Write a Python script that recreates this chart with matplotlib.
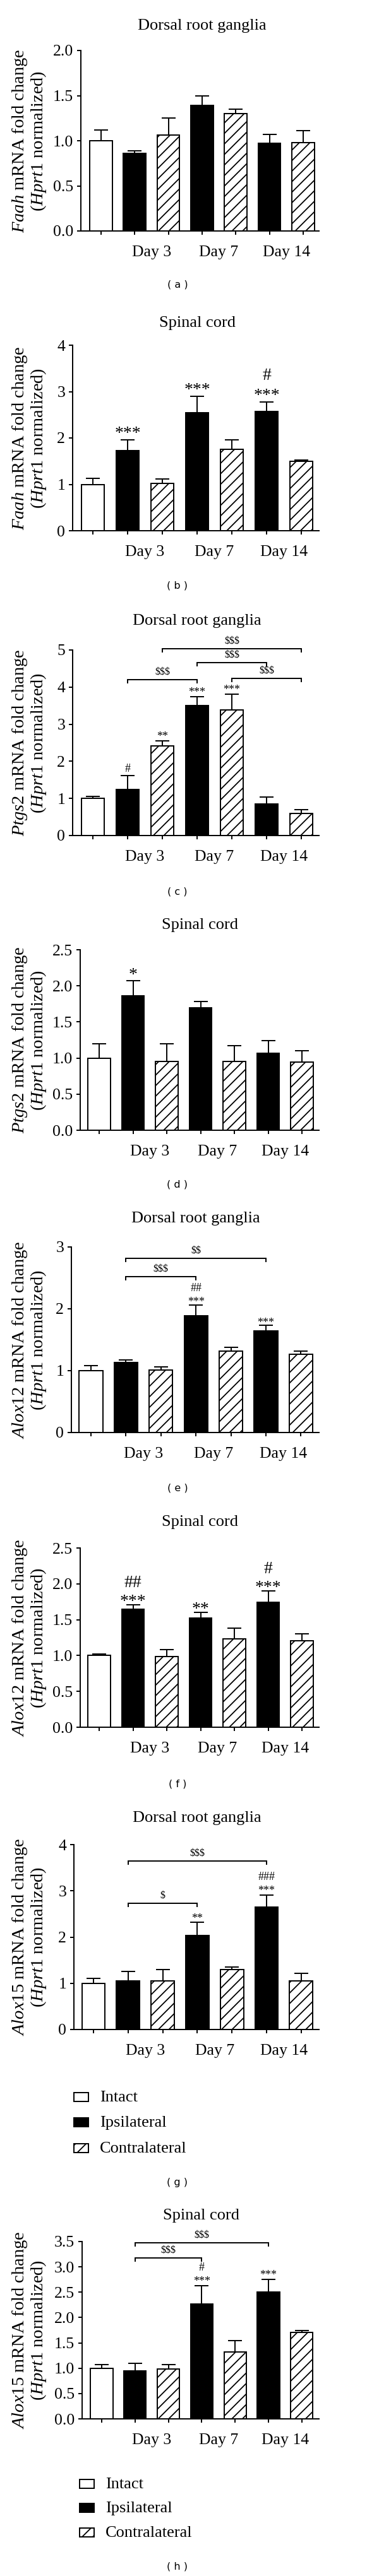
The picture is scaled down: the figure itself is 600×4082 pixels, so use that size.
import matplotlib
matplotlib.use('Agg')
import matplotlib.pyplot as plt
from matplotlib.patches import Rectangle
import numpy as np

plt.rcParams['font.family'] = ['Liberation Serif', 'DejaVu Serif']
plt.rcParams['mathtext.fontset'] = 'custom'
plt.rcParams['mathtext.rm'] = 'Liberation Serif'
plt.rcParams['mathtext.it'] = 'Liberation Serif:italic'
plt.rcParams['hatch.linewidth'] = 1.3

# ---------------- data ----------------
groups = ['Intact', 'Ipsilateral', 'Contralateral']
bar_groups = [0, 1, 2, 1, 2, 1, 2]
day_labels = ['Day 3', 'Day 7', 'Day 14']
genes = ['Faah', 'Faah', 'Ptgs2', 'Ptgs2', 'Alox12', 'Alox12', 'Alox15', 'Alox15']
tissues = ['Dorsal root ganglia', 'Spinal cord'] * 4
letters = ['a', 'b', 'c', 'd', 'e', 'f', 'g', 'h']

a_vals = [1.00, 0.86, 1.06, 1.39, 1.30, 0.97, 0.98]
a_err = [0.12, 0.03, 0.19, 0.11, 0.05, 0.10, 0.13]
b_vals = [1.00, 1.73, 1.02, 2.54, 1.76, 2.57, 1.49]
b_err = [0.13, 0.23, 0.09, 0.36, 0.20, 0.20, 0.04]
c_vals = [1.00, 1.24, 2.42, 3.50, 3.39, 0.85, 0.59]
c_err = [0.05, 0.38, 0.13, 0.25, 0.42, 0.18, 0.11]
d_vals = [1.00, 1.86, 0.95, 1.70, 0.95, 1.07, 0.94]
d_err = [0.20, 0.21, 0.25, 0.08, 0.22, 0.17, 0.16]
e_vals = [1.00, 1.13, 1.01, 1.89, 1.32, 1.64, 1.27]
e_err = [0.085, 0.04, 0.05, 0.17, 0.055, 0.09, 0.045]
f_vals = [1.00, 1.65, 0.99, 1.525, 1.235, 1.74, 1.21]
f_err = [0.02, 0.06, 0.095, 0.08, 0.145, 0.165, 0.09]
g_vals = [1.00, 1.05, 1.05, 2.04, 1.30, 2.65, 1.05]
g_err = [0.11, 0.20, 0.25, 0.28, 0.05, 0.26, 0.16]
h_vals = [1.00, 0.95, 0.98, 2.27, 1.325, 2.50, 1.71]
h_err = [0.07, 0.15, 0.09, 0.36, 0.225, 0.25, 0.03]

# significance labels per bar (lines bottom-to-top separated by '|')
a_sig = ['', '', '', '', '', '', '']
b_sig = ['', '***', '', '***', '', '***|#', '']
c_sig = ['', '#', '**', '***', '***', '', '']
d_sig = ['', '*', '', '', '', '', '']
e_sig = ['', '', '', '***|##', '', '***', '']
f_sig = ['', '***|##', '', '**', '', '***|#', '']
g_sig = ['', '', '', '**', '', '***|###', '']
h_sig = ['', '', '', '***|#', '', '***', '']

# comparison brackets: (bar from, bar to, height, label)
a_br = []
b_br = []
c_br = [(2, 6, 5.04, '$$$'), (3, 5, 4.66, '$$$'), (1, 3, 4.20, '$$$'), (4, 6, 4.24, '$$$')]
d_br = []
e_br = [(1, 5, 2.82, '$$'), (1, 3, 2.52, '$$$')]
f_br = []
g_br = [(1, 5, 3.64, '$$$'), (1, 3, 2.73, '$')]
h_br = [(1, 5, 3.48, '$$$'), (1, 3, 3.18, '$$$')]

ymaxes = [2.0, 4, 5, 2.5, 3, 2.5, 4, 3.5]
ysteps = [0.5, 1, 1, 0.5, 1, 0.5, 1, 0.5]

vals_all = [a_vals, b_vals, c_vals, d_vals, e_vals, f_vals, g_vals, h_vals]
errs_all = [a_err, b_err, c_err, d_err, e_err, f_err, g_err, h_err]
sigs_all = [a_sig, b_sig, c_sig, d_sig, e_sig, f_sig, g_sig, h_sig]
brs_all = [a_br, b_br, c_br, d_br, e_br, f_br, g_br, h_br]

# ---------------- layout (pixels) ----------------
W, H = 600, 4082
lay = [
    dict(L=128, R=505, T=80, B=366, first=160, sp=53.3, title=(320, 47), letter=451, sig=(20, 15, 27)),
    dict(L=115, R=505, T=547, B=841, first=147, sp=55.0, title=(312, 518), letter=928, sig=(20, 15, 27)),
    dict(L=115, R=505, T=1030, B=1324, first=147, sp=55.0, title=(312, 990), letter=1413, sig=(13, 10, 18)),
    dict(L=127, R=505, T=1505, B=1791, first=157, sp=53.5, title=(317, 1472), letter=1877, sig=(20, 14, 27)),
    dict(L=113, R=505, T=1976, B=2270, first=144, sp=55.4, title=(310, 1937), letter=2358, sig=(13, 8, 19)),
    dict(L=127, R=505, T=2453, B=2737, first=157, sp=53.5, title=(317, 2418), letter=2827, sig=(20, 10, 24)),
    dict(L=117, R=505, T=2923, B=3216, first=148, sp=54.8, title=(312, 2887), letter=3458, sig=(13, 9.5, 19)),
    dict(L=130, R=505, T=3552, B=3833, first=161, sp=52.8, title=(319, 3517), letter=4067, sig=(13, 10, 18)),
]

PX = 72.0 / 100.0  # points per pixel
LW = 1.4

fig = plt.figure(figsize=(W / 100, H / 100), dpi=100)
fig.patch.set_facecolor('white')

ov = fig.add_axes([0, 0, 1, 1], zorder=0)
ov.set_xlim(0, W)
ov.set_ylim(H, 0)
ov.axis('off')

face = {0: 'white', 1: 'black', 2: 'white'}
hatch = {0: '', 1: '', 2: '//'}

for k in range(8):
    p = lay[k]
    vals = np.array(vals_all[k], dtype=float)
    errs = np.array(errs_all[k], dtype=float)
    ymax = ymaxes[k]
    L, R, T, B = p['L'], p['R'], p['T'], p['B']
    ax = fig.add_axes([L / W, 1 - B / H, (R - L) / W, (B - T) / H], zorder=2)
    ax.patch.set_alpha(0)
    x = np.arange(len(vals))
    for i in x:
        gi = bar_groups[i]
        ax.bar(i, vals[i], width=0.67, color=face[gi], edgecolor='black',
               linewidth=LW, hatch=hatch[gi], zorder=3)
    ax.errorbar(x, vals, yerr=[np.zeros_like(errs), errs], fmt='none', ecolor='black',
                elinewidth=LW, capsize=8, capthick=LW, zorder=2)
    ax.set_xlim((L - p['first']) / p['sp'], (R - p['first']) / p['sp'])
    ax.set_ylim(0, ymax)
    for s in ['top', 'right']:
        ax.spines[s].set_visible(False)
    for s in ['left', 'bottom']:
        ax.spines[s].set_linewidth(LW)
    ax.set_xticks(x)
    ax.set_xticklabels([])
    yt = np.arange(0, ymax + 1e-9, ysteps[k])
    ax.set_yticks(yt)
    if ysteps[k] < 1:
        ax.set_yticklabels(['%.1f' % v for v in yt])
    else:
        ax.set_yticklabels(['%d' % v for v in yt])
    ax.tick_params(axis='both', direction='out', length=4.5, width=LW, labelsize=18.5, pad=4)

    for j, lab in enumerate(day_labels):
        ax.annotate(lab, xy=(1.5 + 2 * j, 0), xycoords=('data', 'axes fraction'),
                    xytext=(0, -40 * PX), textcoords='offset points',
                    ha='center', va='baseline', fontsize=18.5, annotation_clip=False)

    fs, off, gap = p['sig']
    fspx = fs / PX
    for i, s in enumerate(sigs_all[k]):
        if not s:
            continue
        for li, line in enumerate(s.split('|')):
            yoff = off + gap * li
            if '*' in line:
                yoff -= 0.2 * fspx
            ax.annotate(line, xy=(i, vals[i] + errs[i]), xytext=(0, yoff * PX),
                        textcoords='offset points', ha='center', va='center',
                        fontsize=fs, annotation_clip=False)

    upx = (B - T) / ymax
    for (x1, x2, yb, lab) in brs_all[k]:
        d = 5 / upx
        ax.plot([x1, x1, x2, x2], [yb - d, yb, yb, yb - d], color='black',
                lw=LW, clip_on=False, solid_joinstyle='miter')
        ax.text((x1 + x2) / 2, yb + 12 / upx, lab, ha='center', va='center',
                fontsize=11.5, clip_on=False, parse_math=False)

    ov.text(p['title'][0], p['title'][1], tissues[k], ha='center', va='baseline', fontsize=19)
    yc = (T + B) / 2
    ov.text(32, yc, r'$\mathit{%s}$ mRNA fold change' % genes[k], rotation=90,
            ha='center', va='center', fontsize=20.5)
    ov.text(61, yc, r'($\mathit{Hprt1}$ normalized)', rotation=90,
            ha='center', va='center', fontsize=20.5)
    ov.text(281, p['letter'], '( %s )' % letters[k], ha='center', va='center',
            fontsize=11.5, family='DejaVu Sans')

legend_rows = [
    dict(px=117, tx=158, bases=[3330, 3370, 3411]),
    dict(px=126, tx=167, bases=[3943, 3981, 4020]),
]
for lr in legend_rows:
    for gi, name in enumerate(groups):
        yb = lr['bases'][gi]
        ov.add_patch(Rectangle((lr['px'], yb - 14), 23, 14, facecolor=face[gi],
                               edgecolor='black', linewidth=LW, hatch=hatch[gi]))
        ov.text(lr['tx'], yb, name, ha='left', va='baseline', fontsize=19)

fig.savefig('out.png', dpi=100, facecolor='white')
